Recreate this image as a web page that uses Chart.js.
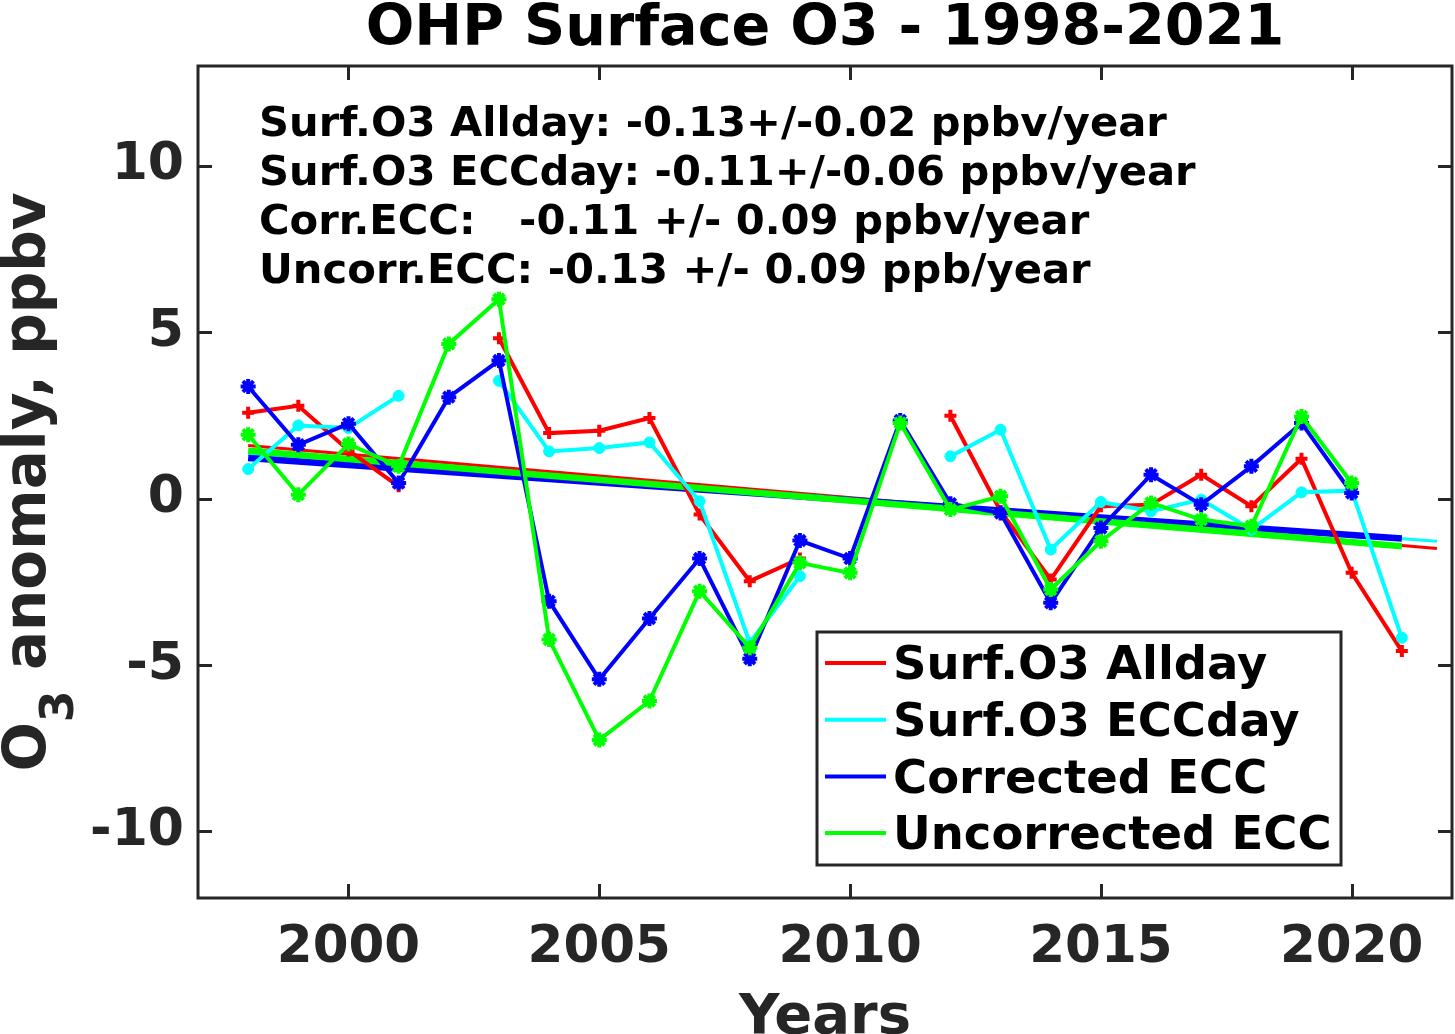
<!DOCTYPE html>
<html>
<head>
<meta charset="utf-8">
<script src="https://cdn.jsdelivr.net/npm/chart.js@4.4.1/dist/chart.umd.min.js"></script>
<style>
  html, body { margin: 0; padding: 0; background: #ffffff; }
  #wrap { width: 1455px; height: 1034px; position: relative; }
  canvas { display: block; }
</style>
</head>
<body>
<div id="wrap"><canvas id="c" width="1455" height="1034"></canvas></div>
<script>
// ---------------- data ----------------
const years = [1998, 1999, 2000, 2001, 2002, 2003, 2004, 2005, 2006, 2007, 2008, 2009,
               2010, 2011, 2012, 2013, 2014, 2015, 2016, 2017, 2018, 2019, 2020, 2021];

const surfAllday = [2.58, 2.79, 1.45, 0.37, null, 4.82, 1.97, 2.04, 2.42, -0.48, -2.48, -1.8,
                    null, null, 2.49, -0.38, -2.43, -0.23, -0.18, 0.72, -0.23, 1.2, -2.23, -4.58];

const surfEccday = [0.89, 2.2, 2.12, 3.09, null, 3.54, 1.42, 1.52, 1.69, -0.08, -4.33, -2.33,
                    null, null, 1.27, 2.07, -1.53, -0.1, -0.38, -0.03, -0.93, 0.19, 0.24, -4.18];

const correctedEcc = [3.37, 1.62, 2.25, 0.47, 3.05, 4.15, -3.08, -5.43, -3.6, -1.8, -4.81, -1.26,
                      -1.8, 2.35, -0.15, -0.43, -3.13, -0.88, 0.72, -0.18, 0.97, 2.27, 0.17, null];

const uncorrectedEcc = [1.92, 0.12, 1.64, 0.97, 4.65, 5.99, -4.23, -7.25, -6.08, -2.78, -4.48, -1.93,
                        -2.23, 2.27, -0.33, 0.07, -2.73, -1.28, -0.13, -0.63, -0.83, 2.47, 0.47, null];

// linear trend lines (start / end)
const alldayTrendX = [1998, 2021.7];
const alldayTrendY = [1.6, -1.5];
const eccdayTrendX = [1998, 2021.7];
const eccdayTrendY = [1.33, -1.28];
const corrTrendX = [1998, 2021];
const corrTrendY = [1.22, -1.2];
const uncorrTrendX = [1998, 2021];
const uncorrTrendY = [1.44, -1.43];

const xTicks = [2000, 2005, 2010, 2015, 2020];
const yTicks = [-10, -5, 0, 5, 10];

const seriesNames = ['Surf.O3 Allday', 'Surf.O3 ECCday', 'Corrected ECC', 'Uncorrected ECC'];
const seriesColors = ['#ff0000', '#00ffff', '#0000ff', '#00ff00'];

const titleText = 'OHP Surface O3 - 1998-2021';
const annotationLines = [
  'Surf.O3 Allday: -0.13+/-0.02 ppbv/year',
  'Surf.O3 ECCday: -0.11+/-0.06 ppbv/year',
  'Corr.ECC:   -0.11 +/- 0.09 ppbv/year',
  'Uncorr.ECC: -0.13 +/- 0.09 ppb/year'
];
const xLabel = 'Years';

// ---------------- helpers ----------------
const FONT = "'DejaVu Sans', 'Liberation Sans', sans-serif";
const AXIS_COLOR = '#262626';

function pts(xs, ys) { return xs.map((x, i) => ({ x: x, y: ys[i] })); }

function dataSet(label, values, color, style, radius, pbw, order) {
  return {
    label: label,
    data: pts(years, values),
    borderColor: color,
    backgroundColor: color,
    borderWidth: 4,
    pointStyle: style,
    pointRadius: radius,
    pointBorderWidth: pbw,
    pointBorderColor: color,
    pointBackgroundColor: color,
    tension: 0,
    spanGaps: false,
    fill: false,
    order: order
  };
}
function trendSet(label, xs, ys, color, width, order) {
  return {
    label: label,
    data: pts(xs, ys),
    borderColor: color,
    backgroundColor: color,
    borderWidth: width,
    pointRadius: 0,
    tension: 0,
    fill: false,
    order: order
  };
}

// ---------------- decoration plugin ----------------
const decorations = {
  id: 'decorations',
  afterDraw(chart) {
    const ctx = chart.ctx;
    const a = chart.chartArea;
    const xs = chart.scales.x, ys = chart.scales.y;
    ctx.save();

    // axes box
    ctx.strokeStyle = AXIS_COLOR;
    ctx.lineWidth = 3;
    ctx.strokeRect(a.left, a.top, a.right - a.left, a.bottom - a.top);

    // inside ticks on all four sides
    ctx.lineWidth = 3;
    const tl = 14;
    ctx.beginPath();
    xTicks.forEach(v => {
      const px = Math.round(xs.getPixelForValue(v)) + 0.5;
      ctx.moveTo(px, a.bottom); ctx.lineTo(px, a.bottom - tl);
      ctx.moveTo(px, a.top); ctx.lineTo(px, a.top + tl);
    });
    yTicks.forEach(v => {
      const py = Math.round(ys.getPixelForValue(v)) + 0.5;
      ctx.moveTo(a.left, py); ctx.lineTo(a.left + tl, py);
      ctx.moveTo(a.right, py); ctx.lineTo(a.right - tl, py);
    });
    ctx.stroke();

    // title
    ctx.fillStyle = '#000000';
    ctx.textAlign = 'center';
    ctx.textBaseline = 'alphabetic';
    ctx.font = 'bold 57.2px ' + FONT;
    ctx.fillText(titleText, (a.left + a.right) / 2, 45);

    // annotation text
    ctx.textAlign = 'left';
    ctx.font = 'bold 41.7px ' + FONT;
    annotationLines.forEach((t, i) => {
      ctx.fillText(t, 259, 135.5 + i * 49);
    });

    // x label
    ctx.fillStyle = AXIS_COLOR;
    ctx.textAlign = 'center';
    ctx.font = 'bold 56px ' + FONT;
    ctx.fillText(xLabel, (a.left + a.right) / 2, 1033);

    // y label with subscript
    ctx.save();
    ctx.translate(45, 482);
    ctx.rotate(-Math.PI / 2);
    ctx.textAlign = 'left';
    const mainFont = 'bold 58px ' + FONT;
    const subFont = 'bold 46px ' + FONT;
    ctx.font = mainFont; const w1 = ctx.measureText('O').width;
    ctx.font = subFont; const w2 = ctx.measureText('3').width;
    ctx.font = mainFont; const w3 = ctx.measureText(' anomaly, ppbv').width;
    let x0 = -(w1 + w2 + w3) / 2;
    ctx.font = mainFont; ctx.fillText('O', x0, 0);
    ctx.font = subFont; ctx.fillText('3', x0 + w1, 28);
    ctx.font = mainFont; ctx.fillText(' anomaly, ppbv', x0 + w1 + w2, 0);
    ctx.restore();

    // legend
    const lx = 817, ly = 632, lw = 524, lh = 233;
    ctx.fillStyle = '#ffffff';
    ctx.fillRect(lx, ly, lw, lh);
    ctx.strokeStyle = AXIS_COLOR;
    ctx.lineWidth = 3;
    ctx.strokeRect(lx, ly, lw, lh);
    ctx.font = 'bold 46.5px ' + FONT;
    ctx.textAlign = 'left';
    seriesNames.forEach((name, i) => {
      const rowY = 663 + i * 56.7;
      ctx.strokeStyle = seriesColors[i];
      ctx.lineWidth = 4;
      ctx.beginPath();
      ctx.moveTo(825, rowY); ctx.lineTo(886, rowY);
      ctx.stroke();
      ctx.fillStyle = '#000000';
      ctx.fillText(name, 893, rowY + 16.3);
    });

    ctx.restore();
  }
};

// ---------------- chart ----------------
new Chart(document.getElementById('c'), {
  type: 'line',
  data: {
    datasets: [
      dataSet(seriesNames[3], uncorrectedEcc, seriesColors[3], 'star', 7.5, 4, 0),
      dataSet(seriesNames[2], correctedEcc, seriesColors[2], 'star', 7.5, 4, 1),
      dataSet(seriesNames[1], surfEccday, seriesColors[1], 'circle', 5.5, 1, 2),
      dataSet(seriesNames[0], surfAllday, seriesColors[0], 'cross', 6, 4, 3),
      trendSet('Uncorr trend', uncorrTrendX, uncorrTrendY, seriesColors[3], 6.5, 4),
      trendSet('Corr trend', corrTrendX, corrTrendY, seriesColors[2], 6.5, 5),
      trendSet('ECCday trend', eccdayTrendX, eccdayTrendY, seriesColors[1], 3, 6),
      trendSet('Allday trend', alldayTrendX, alldayTrendY, seriesColors[0], 3, 7)
    ]
  },
  options: {
    responsive: false,
    devicePixelRatio: 1,
    animation: false,
    layout: { autoPadding: false, padding: { top: 66, right: 3, left: 0, bottom: 0 } },
    plugins: {
      legend: { display: false },
      title: { display: false },
      tooltip: { enabled: false }
    },
    scales: {
      x: {
        type: 'linear',
        min: 1997,
        max: 2022,
        grid: { display: false, drawTicks: false },
        border: { display: false },
        afterBuildTicks: s => { s.ticks = xTicks.map(v => ({ value: v })); },
        afterFit: s => { s.height = 136; s.paddingLeft = 0; s.paddingRight = 0; },
        ticks: {
          padding: 20,
          maxRotation: 0,
          autoSkip: false,
          color: AXIS_COLOR,
          font: { family: FONT, size: 51.5, weight: 'bold' },
          callback: v => String(v)
        }
      },
      y: {
        type: 'linear',
        min: -12,
        max: 13,
        grid: { display: false, drawTicks: false },
        border: { display: false },
        afterBuildTicks: s => { s.ticks = yTicks.map(v => ({ value: v })); },
        afterFit: s => { s.width = 198; s.paddingTop = 0; s.paddingBottom = 0; },
        ticks: {
          padding: 14,
          autoSkip: false,
          color: AXIS_COLOR,
          font: { family: FONT, size: 52, weight: 'bold' },
          callback: v => String(v)
        }
      }
    }
  },
  plugins: [decorations]
});
</script>
</body>
</html>
